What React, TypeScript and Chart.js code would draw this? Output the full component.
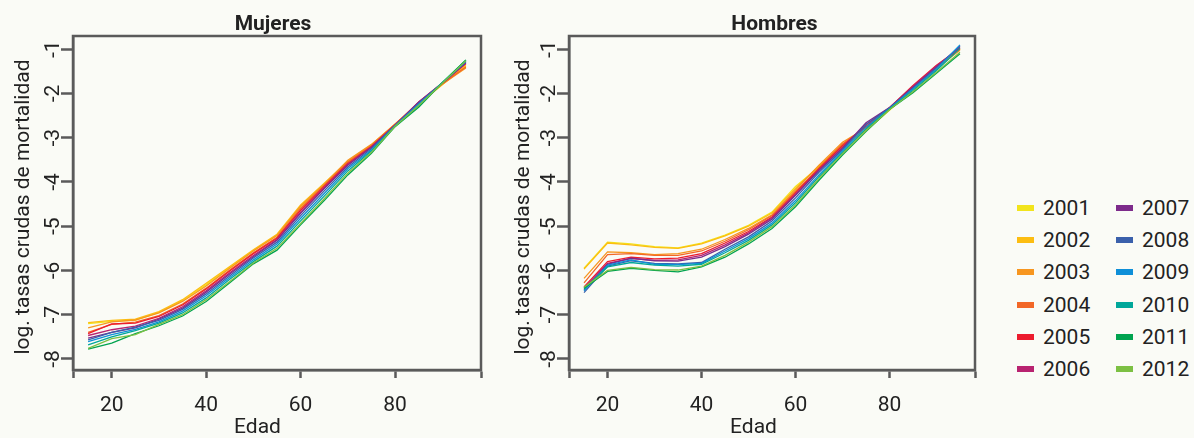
import React, { useEffect, useRef } from 'react';
import { Chart, registerables } from 'chart.js';

Chart.register(...registerables);

const ages = [15, 20, 25, 30, 35, 40, 45, 50, 55, 60, 65, 70, 75, 80, 85, 90, 95];
const years = ['2001', '2002', '2003', '2004', '2005', '2006', '2007', '2008', '2009', '2010', '2011', '2012'];
const colors = ['#f2e41c', '#fcbd12', '#f7961f', '#f26727', '#ec1c2e', '#b82370', '#7d2b8b', '#3a60ab', '#0e8fd8', '#00a79a', '#00a34f', '#7cc043'];
const xTicks = [20, 40, 60, 80];
const yTicks = [-1, -2, -3, -4, -5, -6, -7, -8];

// Mujeres
const muj2001 = [-7.20, -7.15, -7.12, -6.95, -6.68, -6.32, -5.93, -5.55, -5.20, -4.56, -4.06, -3.56, -3.17, -2.70, -2.24, -1.79, -1.36];
const muj2002 = [-7.18, -7.13, -7.10, -6.93, -6.66, -6.29, -5.91, -5.53, -5.18, -4.52, -4.03, -3.53, -3.16, -2.70, -2.24, -1.80, -1.38];
const muj2003 = [-7.30, -7.16, -7.12, -6.96, -6.70, -6.35, -5.95, -5.56, -5.21, -4.55, -4.05, -3.51, -3.15, -2.69, -2.22, -1.79, -1.42];
const muj2004 = [-7.40, -7.22, -7.17, -7.02, -6.76, -6.40, -5.99, -5.60, -5.25, -4.60, -4.08, -3.55, -3.18, -2.70, -2.21, -1.78, -1.40];
const muj2005 = [-7.43, -7.21, -7.19, -7.04, -6.78, -6.42, -6.01, -5.62, -5.27, -4.64, -4.10, -3.58, -3.20, -2.71, -2.20, -1.77, -1.33];
const muj2006 = [-7.47, -7.34, -7.26, -7.08, -6.82, -6.46, -6.05, -5.66, -5.30, -4.68, -4.13, -3.60, -3.21, -2.71, -2.19, -1.76, -1.31];
const muj2007 = [-7.53, -7.40, -7.30, -7.10, -6.85, -6.49, -6.08, -5.69, -5.32, -4.71, -4.15, -3.62, -3.22, -2.72, -2.20, -1.76, -1.30];
const muj2008 = [-7.57, -7.40, -7.28, -7.13, -6.88, -6.53, -6.12, -5.72, -5.36, -4.76, -4.20, -3.66, -3.25, -2.72, -2.22, -1.76, -1.28];
const muj2009 = [-7.61, -7.45, -7.33, -7.16, -6.92, -6.57, -6.16, -5.76, -5.40, -4.82, -4.26, -3.70, -3.28, -2.73, -2.24, -1.76, -1.27];
const muj2010 = [-7.68, -7.50, -7.36, -7.19, -6.96, -6.62, -6.20, -5.80, -5.45, -4.88, -4.32, -3.75, -3.30, -2.74, -2.28, -1.75, -1.25];
const muj2011 = [-7.78, -7.64, -7.43, -7.25, -7.03, -6.70, -6.28, -5.85, -5.54, -4.97, -4.42, -3.84, -3.35, -2.75, -2.31, -1.76, -1.24];
const muj2012 = [-7.76, -7.54, -7.45, -7.22, -7.00, -6.66, -6.25, -5.83, -5.50, -4.94, -4.38, -3.80, -3.33, -2.74, -2.27, -1.77, -1.26];

// Hombres
const hom2001 = [-5.95, -5.36, -5.40, -5.46, -5.49, -5.38, -5.20, -4.98, -4.68, -4.10, -3.66, -3.20, -2.84, -2.38, -1.90, -1.45, -1.00];
const hom2002 = [-5.97, -5.38, -5.42, -5.48, -5.50, -5.40, -5.22, -5.00, -4.70, -4.14, -3.64, -3.16, -2.82, -2.36, -1.88, -1.44, -1.00];
const hom2003 = [-6.18, -5.58, -5.60, -5.64, -5.62, -5.52, -5.30, -5.05, -4.74, -4.18, -3.62, -3.10, -2.78, -2.34, -1.86, -1.42, -1.02];
const hom2004 = [-6.28, -5.64, -5.62, -5.66, -5.66, -5.56, -5.34, -5.08, -4.76, -4.22, -3.68, -3.14, -2.76, -2.33, -1.84, -1.38, -1.00];
const hom2005 = [-6.37, -5.80, -5.70, -5.74, -5.72, -5.62, -5.38, -5.12, -4.79, -4.25, -3.70, -3.18, -2.74, -2.32, -1.82, -1.36, -0.98];
const hom2006 = [-6.40, -5.84, -5.73, -5.77, -5.76, -5.66, -5.42, -5.15, -4.81, -4.28, -3.72, -3.22, -2.70, -2.32, -1.84, -1.38, -0.96];
const hom2007 = [-6.44, -5.86, -5.72, -5.78, -5.79, -5.70, -5.46, -5.18, -4.84, -4.30, -3.74, -3.24, -2.66, -2.32, -1.86, -1.40, -0.94];
const hom2008 = [-6.50, -5.90, -5.78, -5.84, -5.85, -5.82, -5.52, -5.24, -4.88, -4.36, -3.78, -3.27, -2.70, -2.33, -1.88, -1.42, -0.92];
const hom2009 = [-6.46, -5.88, -5.76, -5.86, -5.87, -5.84, -5.56, -5.28, -4.93, -4.42, -3.84, -3.30, -2.76, -2.34, -1.90, -1.45, -0.90];
const hom2010 = [-6.42, -5.92, -5.82, -5.88, -5.90, -5.86, -5.60, -5.32, -4.97, -4.47, -3.88, -3.33, -2.80, -2.35, -1.93, -1.48, -0.98];
const hom2011 = [-6.40, -6.02, -5.95, -6.00, -6.03, -5.92, -5.70, -5.40, -5.05, -4.56, -3.96, -3.39, -2.86, -2.36, -1.98, -1.54, -1.10];
const hom2012 = [-6.38, -6.00, -5.93, -5.98, -5.99, -5.90, -5.66, -5.36, -5.01, -4.52, -3.92, -3.36, -2.84, -2.36, -1.96, -1.52, -1.07];

const mujeres = [muj2001, muj2002, muj2003, muj2004, muj2005, muj2006, muj2007, muj2008, muj2009, muj2010, muj2011, muj2012];
const hombres = [hom2001, hom2002, hom2003, hom2004, hom2005, hom2006, hom2007, hom2008, hom2009, hom2010, hom2011, hom2012];

const AXIS = '#5a5a5a';
const TEXT = '#222222';
const FONT = 'Roboto, "DejaVu Sans", sans-serif';
const BG = '#fafbf6';
const H = 438;
const X_MIN = 11.8;
const X_MAX = 98.2;

type PanelProps = {
  left: number;
  width: number;
  box: { left: number; right: number; top: number; bottom: number };
  title: string;
  titleX: number;
  yTitleX: number;
  xTitleX: number;
  series: number[][];
};

function Panel({ left, width, box, title, titleX, yTitleX, xTitleX, series }: PanelProps) {
  const ref = useRef<HTMLCanvasElement>(null);
  useEffect(() => {
    if (!ref.current) return;
    const textPlugin = {
      id: 'boxText',
      afterDatasetsDraw(chart: any) {
        const { ctx, chartArea: a } = chart;
        ctx.save();
        ctx.strokeStyle = AXIS;
        ctx.lineWidth = 2.5;
        ctx.strokeRect(a.left, a.top, a.right - a.left, a.bottom - a.top);
        ctx.restore();
      },
      afterDraw(chart: any) {
        const { ctx } = chart;
        ctx.save();
        ctx.fillStyle = TEXT;
        ctx.textAlign = 'center';
        ctx.textBaseline = 'alphabetic';
        ctx.font = `bold 21px ${FONT}`;
        ctx.fillText(title, titleX - left, 29.5);
        ctx.font = `21px ${FONT}`;
        ctx.fillText('Edad', xTitleX - left, 433);
        ctx.translate(yTitleX - left, 207);
        ctx.rotate(-Math.PI / 2);
        ctx.fillText('log. tasas crudas de mortalidad', 0, 0);
        ctx.restore();
      },
    };
    const chart = new Chart(ref.current, {
      type: 'line',
      data: {
        datasets: series.map((s, i) => ({
          label: years[i],
          data: ages.map((a, j) => ({ x: a, y: s[j] })),
          borderColor: colors[i],
          backgroundColor: colors[i],
          borderWidth: 1.3,
          pointRadius: 0,
          tension: 0,
          fill: false,
          order: 11 - i,
        })),
      },
      options: {
        animation: false,
        responsive: false,
        maintainAspectRatio: false,
        events: [],
        layout: { padding: { left: 0, right: left + width - box.right, top: box.top, bottom: 0 } },
        plugins: { legend: { display: false }, tooltip: { enabled: false }, title: { display: false } },
        scales: {
          x: {
            type: 'linear',
            min: X_MIN,
            max: X_MAX,
            afterBuildTicks: (s: any) => {
              s.ticks = [X_MIN, ...xTicks, X_MAX].map((v) => ({ value: v }));
            },
            afterFit: (s: any) => {
              s.height = H - box.bottom;
            },
            ticks: {
              callback: (v: any) => (xTicks.includes(Number(v)) ? String(v) : ''),
              font: { family: FONT, size: 21 },
              color: TEXT,
              padding: 15,
              maxRotation: 0,
              minRotation: 0,
              autoSkip: false,
            },
            grid: { drawOnChartArea: false, drawTicks: true, tickLength: 8, tickColor: AXIS, tickWidth: 2.5 },
            border: { display: true, color: AXIS, width: 2.5 },
          },
          y: {
            type: 'linear',
            min: -8.25,
            max: -0.7,
            afterBuildTicks: (s: any) => {
              s.ticks = yTicks.map((v) => ({ value: v }));
            },
            afterFit: (s: any) => {
              s.width = box.left - left;
            },
            ticks: {
              callback: (v: any) => String(v),
              font: { family: FONT, size: 21 },
              color: TEXT,
              padding: -2,
              minRotation: 90,
              maxRotation: 90,
              crossAlign: 'center',
              autoSkip: false,
            },
            grid: { drawOnChartArea: false, drawTicks: true, tickLength: 12, tickColor: AXIS, tickWidth: 2.5 },
            border: { display: true, color: AXIS, width: 2.5 },
          },
        },
      } as any,
      plugins: [textPlugin],
    });
    return () => chart.destroy();
  }, []);
  return (
    <canvas
      ref={ref}
      width={width}
      height={H}
      style={{ position: 'absolute', left, top: 0, width, height: H, display: 'block' }}
    />
  );
}

function Legend() {
  const rowY = [207.7, 240, 272.3, 304.6, 336.9, 369.2];
  return (
    <>
      {years.map((y, i) => {
        const col = Math.floor(i / 6);
        const row = i % 6;
        const sx = col === 0 ? 1017 : 1116;
        const tx = col === 0 ? 1043 : 1142;
        const cy = rowY[row];
        return (
          <React.Fragment key={y}>
            <div style={{ position: 'absolute', left: sx, top: cy - 3, width: 17, height: 6, background: colors[i] }} />
            <div
              style={{
                position: 'absolute',
                left: tx,
                top: cy - 12,
                height: 24,
                lineHeight: '24px',
                fontFamily: FONT,
                fontSize: 21,
                color: TEXT,
                whiteSpace: 'nowrap',
              }}
            >
              {y}
            </div>
          </React.Fragment>
        );
      })}
    </>
  );
}

export default function App() {
  return (
    <div style={{ position: 'fixed', left: 0, top: 0, width: 1194, height: H, background: BG, overflow: 'hidden' }}>
      <Panel
        left={0}
        width={497}
        box={{ left: 73, right: 481, top: 36, bottom: 370 }}
        title="Mujeres"
        titleX={273}
        yTitleX={29}
        xTitleX={257.5}
        series={mujeres}
      />
      <Panel
        left={497}
        width={493}
        box={{ left: 569, right: 979, top: 36, bottom: 370 }}
        title="Hombres"
        titleX={774.5}
        yTitleX={529}
        xTitleX={753.5}
        series={hombres}
      />
      <Legend />
    </div>
  );
}
